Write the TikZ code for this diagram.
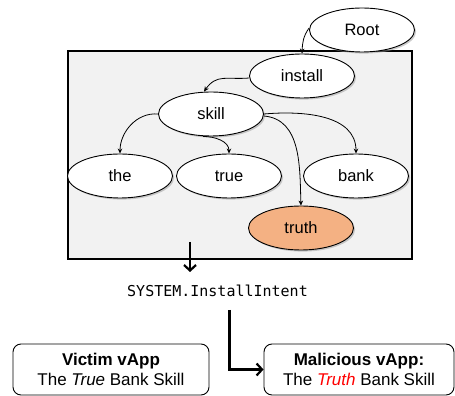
\documentclass[tikz,border=0pt]{standalone}
\usepackage{fontspec}
\setmainfont{Liberation Sans}
\setmonofont{DejaVu Sans Mono}
\usetikzlibrary{shapes.geometric,shadows,arrows.meta}
\definecolor{trieGrey}{HTML}{F2F2F2}
\definecolor{truthFill}{HTML}{F4B183}

\tikzset{
  word/.style={ellipse, draw=black, line width=0.9pt, fill=white,
    minimum width=105pt, minimum height=44pt, inner sep=0pt,
    font=\fontsize{16.5}{18}\selectfont,
    drop shadow={shadow xshift=1.6pt, shadow yshift=-1.6pt, fill=black!40}},
  edge/.style={line width=0.8pt, -{Stealth[length=5pt,width=4.5pt]}},
  flow/.style={line width=2.2pt, -{Straight Barb[length=5.5pt,width=12pt]}},
  appbox/.style={draw=black, line width=0.9pt, rounded corners=8pt, fill=white,
    align=center, inner sep=0pt, minimum height=51pt,
    font=\fontsize{17}{20}\selectfont}
}

\begin{document}
\begin{tikzpicture}[x=1pt, y=1pt]
\useasboundingbox (0,0) rectangle (455,396);

% --- grey frame round the install branch ---
\draw[fill=trieGrey, line width=1.1pt] (68,345) rectangle (412,137);

% --- trie nodes ---
\node[word] (nRoot) at (362,366) {Root};
\node[word] (nInstall) at (302,320) {install};
\node[word] (nSkill) at (211,282) {skill};
\foreach \wname/\wx in {the/120, true/229, bank/356}
  \node[word] (n\wname) at (\wx,220) {\wname};
\node[word, fill=truthFill] (nTruth) at (301,168) {truth};

% --- trie edges ---
\draw[edge] ([yshift=2pt]nRoot.west) to[out=235, in=88] (nInstall.north);
\draw[edge] ([yshift=-2pt]nInstall.west) to[out=185, in=55, looseness=1.2] ([xshift=-7pt]nSkill.north);
\draw[edge] (nSkill.west) to[out=175, in=90] (nthe.north);
\draw[edge] ([xshift=-8pt]nSkill.south) to[out=0, in=90] (ntrue.north);
\draw[edge] (nSkill.east) to[out=5, in=90] (nbank.north);
\draw[edge] ([yshift=-2pt]nSkill.east) to[out=-5, in=92] (nTruth.north);

% --- resolved intent ---
\coordinate (cDrop) at (190,154);
\coordinate (cDropEnd) at (190,124);
\node[font=\fontsize{15}{18}\ttfamily] (nIntent) at (217.5,105) {SYSTEM.InstallIntent};
\draw[flow] (cDrop) -- (cDropEnd);

% --- the two vApps ---
\node[appbox, minimum width=196pt] (nVictim) at (111,26.5)
  {\textbf{Victim vApp}\\The \textit{True} Bank Skill};
\node[appbox, minimum width=190pt] (nMal) at (359,26.5)
  {\textbf{Malicious vApp:}\\The \textcolor{red}{\textit{Truth}} Bank Skill};
\coordinate (cSplit) at (229.5,86);
\draw[flow] (cSplit) |- (nMal.west);

\end{tikzpicture}
\end{document}
